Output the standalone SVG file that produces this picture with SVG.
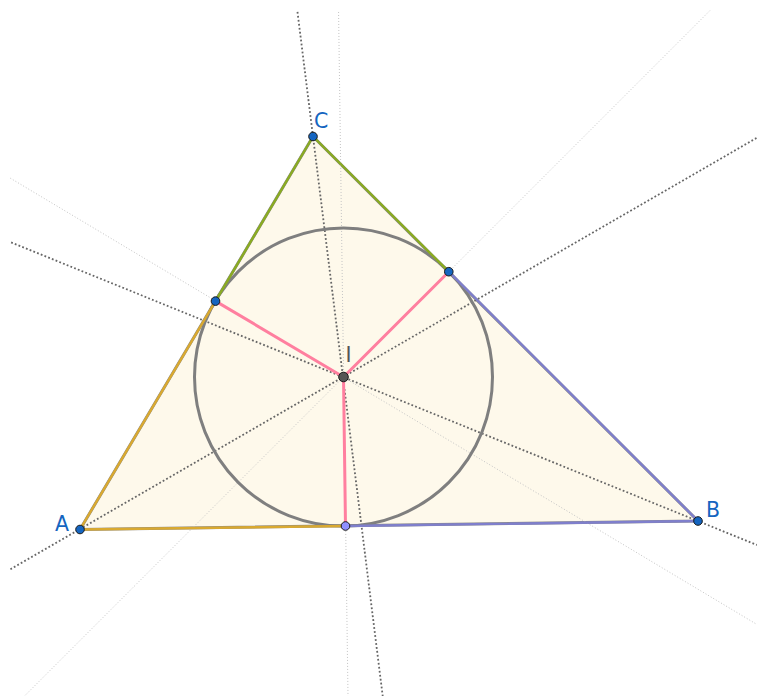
<svg xmlns="http://www.w3.org/2000/svg" width="757" height="696" viewBox="0 0 757 696">
<style>
.dark{stroke:#666666;stroke-width:1.8;stroke-dasharray:1.8 2.2;fill:none}
.light{stroke:#c4c4c4;stroke-width:1;stroke-dasharray:1 2;fill:none}
.rad{stroke:#ff7f9f;stroke-width:3;stroke-linecap:round;fill:none}
.edge{stroke-width:2.4;fill:none;stroke-linecap:round}
.pt{fill:#1565c0;stroke:#1a1a1a;stroke-width:1}
.lbl{font-family:"DejaVu Sans",sans-serif;font-size:20.5px;fill:#1565c0}
</style>
<defs>
<clipPath id="clip"><rect x="10" y="10" width="747" height="686"/></clipPath>
</defs>
<rect width="757" height="696" fill="#ffffff"/>
<polygon points="80,529.5 698,521 313,136.5" fill="#fef9eb" stroke="#8a8a8a" stroke-width="3" stroke-linejoin="round"/>
<g id="connectors">
<g clip-path="url(#clip)">
<line class="light" x1="338.4" y1="0" x2="348" y2="696"/>
<line class="light" x1="720.5" y1="0" x2="24.5" y2="696"/>
<line class="light" x1="0" y1="172" x2="757" y2="624.5"/>
<line class="dark" x1="0" y1="575.3" x2="757" y2="137.7"/>
<line class="dark" x1="0" y1="237.9" x2="757" y2="545"/>
<line class="dark" x1="296" y1="0" x2="382.7" y2="696"/>
</g>
<circle cx="343.5" cy="377" r="149" fill="none" stroke="#7f7f7f" stroke-width="3"/>
<line class="edge" stroke="#d9a930" x1="80" y1="529.5" x2="215.5" y2="301.1"/>
<line class="edge" stroke="#d9a930" x1="80" y1="529.5" x2="345.5" y2="526"/>
<line class="edge" stroke="#8aab22" x1="313" y1="136.5" x2="215.5" y2="301.1"/>
<line class="edge" stroke="#8aab22" x1="313" y1="136.5" x2="448.8" y2="271.7"/>
<line class="edge" stroke="#7f7fcc" x1="698" y1="521" x2="448.8" y2="271.7"/>
<line class="edge" stroke="#7f7fcc" x1="698" y1="521" x2="345.5" y2="526"/>
<line class="rad" x1="343.5" y1="377" x2="215.5" y2="301.1"/>
<line class="rad" x1="343.5" y1="377" x2="448.8" y2="271.7"/>
<line class="rad" x1="343.5" y1="377" x2="345.5" y2="526"/>
</g>
<g id="A"><circle class="pt" cx="80" cy="529.5" r="4.3"/><text class="lbl" x="55" y="531">A</text></g>
<g id="B"><circle class="pt" cx="698" cy="521" r="4.3"/><text class="lbl" x="706" y="517">B</text></g>
<g id="C"><circle class="pt" cx="313" cy="136.5" r="4.3"/><text class="lbl" x="314" y="128">C</text></g>
<g id="I"><circle cx="343.5" cy="377" r="4.8" fill="#555555" stroke="#1a1a1a" stroke-width="1"/><text x="345.5" y="362" font-family="DejaVu Sans, sans-serif" font-size="20.5" fill="#555555">I</text></g>
<g id="T_AC"><circle class="pt" cx="215.5" cy="301.1" r="4.3"/></g>
<g id="T_BC"><circle class="pt" cx="448.8" cy="271.7" r="4.3"/></g>
<g id="T_AB"><circle cx="345.5" cy="526" r="4.3" fill="#8f8fff" stroke="#1a1a1a" stroke-width="1"/></g>
</svg>
